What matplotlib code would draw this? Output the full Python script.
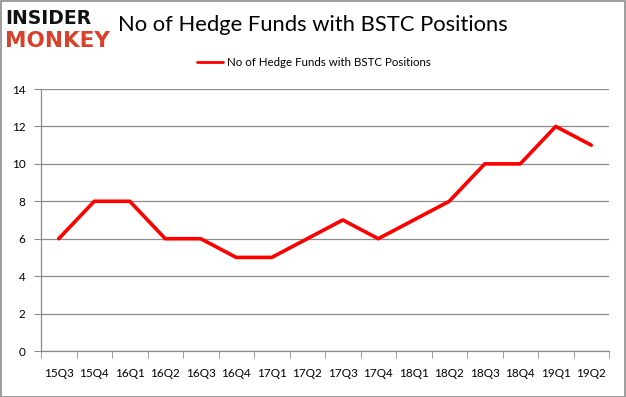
import matplotlib
matplotlib.use("Agg")
import matplotlib.pyplot as plt
from matplotlib.patches import Rectangle

quarters = ["15Q3", "15Q4", "16Q1", "16Q2", "16Q3", "16Q4", "17Q1", "17Q2",
            "17Q3", "17Q4", "18Q1", "18Q2", "18Q3", "18Q4", "19Q1", "19Q2"]
funds = [6, 8, 8, 6, 6, 5, 5, 6, 7, 6, 7, 8, 10, 10, 12, 11]
yticks = [0, 2, 4, 6, 8, 10, 12, 14]
series_label = "No of Hedge Funds with BSTC Positions"
title = "No of Hedge Funds with BSTC Positions"

W, H = 626, 397
fig = plt.figure(figsize=(W / 100, H / 100), dpi=100)
fig.patch.set_facecolor("white")

# outer border
fig.add_artist(Rectangle((0.5 / W, 0.5 / H), 1 - 1.5 / W, 1 - 1.5 / H, transform=fig.transFigure,
                         fill=False, edgecolor="#8c8c8c", linewidth=1.2))

left, right, top, bottom = 41, 609, 89, 351
ax = fig.add_axes([left / W, 1 - bottom / H, (right - left) / W, (bottom - top) / H])
x = list(range(len(quarters)))
ax.plot(x, funds, color="#ff0000", linewidth=2.6, label=series_label, solid_capstyle="round")
ax.set_xlim(-0.5, len(quarters) - 0.5)
ax.set_ylim(0, 14)
ax.set_yticks(yticks)
ax.set_yticklabels([str(v) for v in yticks], fontsize=8.5, family="Lato")
ax.set_xticks(x)
ax.set_xticklabels(quarters, fontsize=8.5, family="Lato")
ax.tick_params(axis="x", length=0, pad=12)
ax.set_xticks([i - 0.5 for i in range(len(quarters) + 1)], minor=True)
ax.tick_params(axis="x", which="minor", length=5, color="#8c8c8c", direction="out")
ax.tick_params(axis="y", length=5, color="#8c8c8c", direction="out", pad=6)
ax.grid(axis="y", color="#8c8c8c", linewidth=0.9)
ax.set_axisbelow(True)
for s in ["top", "right"]:
    ax.spines[s].set_visible(False)
for s in ["left", "bottom"]:
    ax.spines[s].set_color("#8c8c8c")
    ax.spines[s].set_linewidth(0.9)

leg = ax.legend(loc="lower center", bbox_to_anchor=(0.481, 1.041), frameon=False,
                handlelength=2.2, handletextpad=0.4,
                prop={"family": "Lato", "size": 8.3})
for h in leg.get_lines():
    h.set_linewidth(2.0)

fig.text(118 / W, 1 - 25 / H, title, fontsize=15.8, fontweight="normal",
         family="Lato", va="center", ha="left")
fig.text(5 / W, 1 - 19 / H, "INSIDER", fontsize=13.5, fontweight="heavy",
         family="DejaVu Sans", va="center", ha="left", color="#111111")
fig.text(5 / W, 1 - 41 / H, "MONKEY", fontsize=15.5, fontweight="heavy",
         family="DejaVu Sans", va="center", ha="left", color="#d9412b")

fig.savefig("out.png", dpi=100, facecolor="white")
